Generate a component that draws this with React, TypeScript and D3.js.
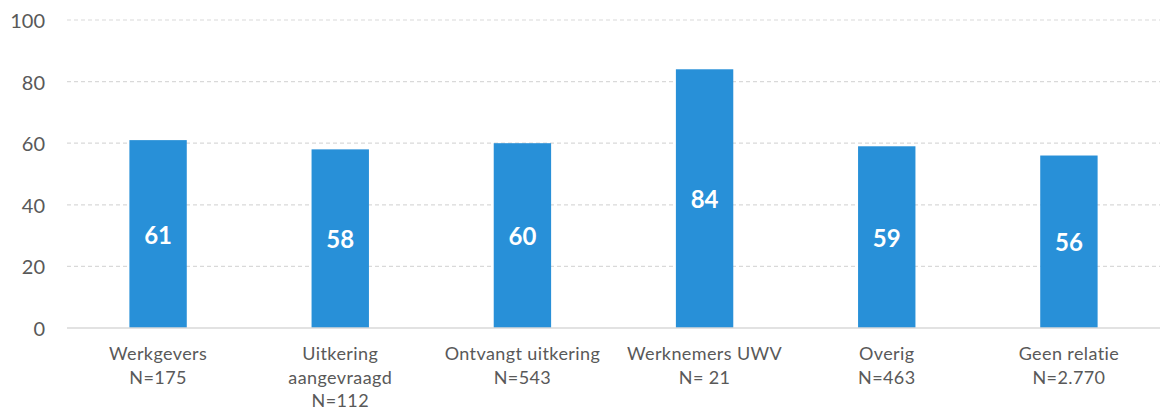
import React from "react";
import * as d3 from "d3";

const categories: string[][] = [
  ["Werkgevers", "N=175"],
  ["Uitkering", "aangevraagd", "N=112"],
  ["Ontvangt uitkering", "N=543"],
  ["Werknemers UWV", "N= 21"],
  ["Overig", "N=463"],
  ["Geen relatie", "N=2.770"],
];
const values: number[] = [61, 58, 60, 84, 59, 56];
const yTicks: number[] = [0, 20, 40, 60, 80, 100];

const W = 1161;
const H = 411;
const FONT = "Lato, 'Open Sans', sans-serif";

export default function App() {
  const left = 67;
  const right = 1160;
  const top = 20;
  const bottom = 328;
  const x = d3
    .scaleBand<number>()
    .domain(values.map((_, i) => i))
    .range([left, right])
    .paddingInner(0.685)
    .paddingOuter(0.3425);
  const y = d3.scaleLinear().domain([0, 100]).range([bottom, top]);

  return (
    <svg
      width={W}
      height={H}
      style={{ position: "absolute", left: 0, top: 0, background: "#fff" }}
      fontFamily={FONT}
    >
      {yTicks.map((t) =>
        t === 0 ? null : (
          <line
            key={"g" + t}
            x1={left}
            x2={right}
            y1={y(t)}
            y2={y(t)}
            stroke="#d9d9d9"
            strokeWidth={1.2}
            strokeDasharray="4 3"
          />
        )
      )}
      {yTicks.map((t) => (
        <text
          key={"t" + t}
          x={45}
          y={y(t)}
          textAnchor="end"
          dominantBaseline="central"
          fontSize={20}
          fill="#595959"
        >
          {t}
        </text>
      ))}
      {values.map((v, i) => (
        <g key={"b" + i}>
          <rect
            x={x(i)}
            y={y(v)}
            width={x.bandwidth()}
            height={y(0) - y(v)}
            fill="#2890d8"
          />
          <text
            x={(x(i) as number) + x.bandwidth() / 2}
            y={(y(v) + y(0)) / 2}
            textAnchor="middle"
            dominantBaseline="central"
            fontSize={24}
            fontWeight="bold"
            fill="#ffffff"
          >
            {v}
          </text>
        </g>
      ))}
      <line x1={left} x2={right} y1={y(0)} y2={y(0)} stroke="#d9d9d9" strokeWidth={1.5} />
      {categories.map((lines, i) => (
        <text
          key={"c" + i}
          x={(x(i) as number) + x.bandwidth() / 2}
          textAnchor="middle"
          fontSize={18}
          letterSpacing={0.4}
          fill="#595959"
        >
          {lines.map((l, j) => (
            <tspan
              key={j}
              x={(x(i) as number) + x.bandwidth() / 2}
              y={353 + j * 23.5}
              dominantBaseline="central"
            >
              {l}
            </tspan>
          ))}
        </text>
      ))}
    </svg>
  );
}
